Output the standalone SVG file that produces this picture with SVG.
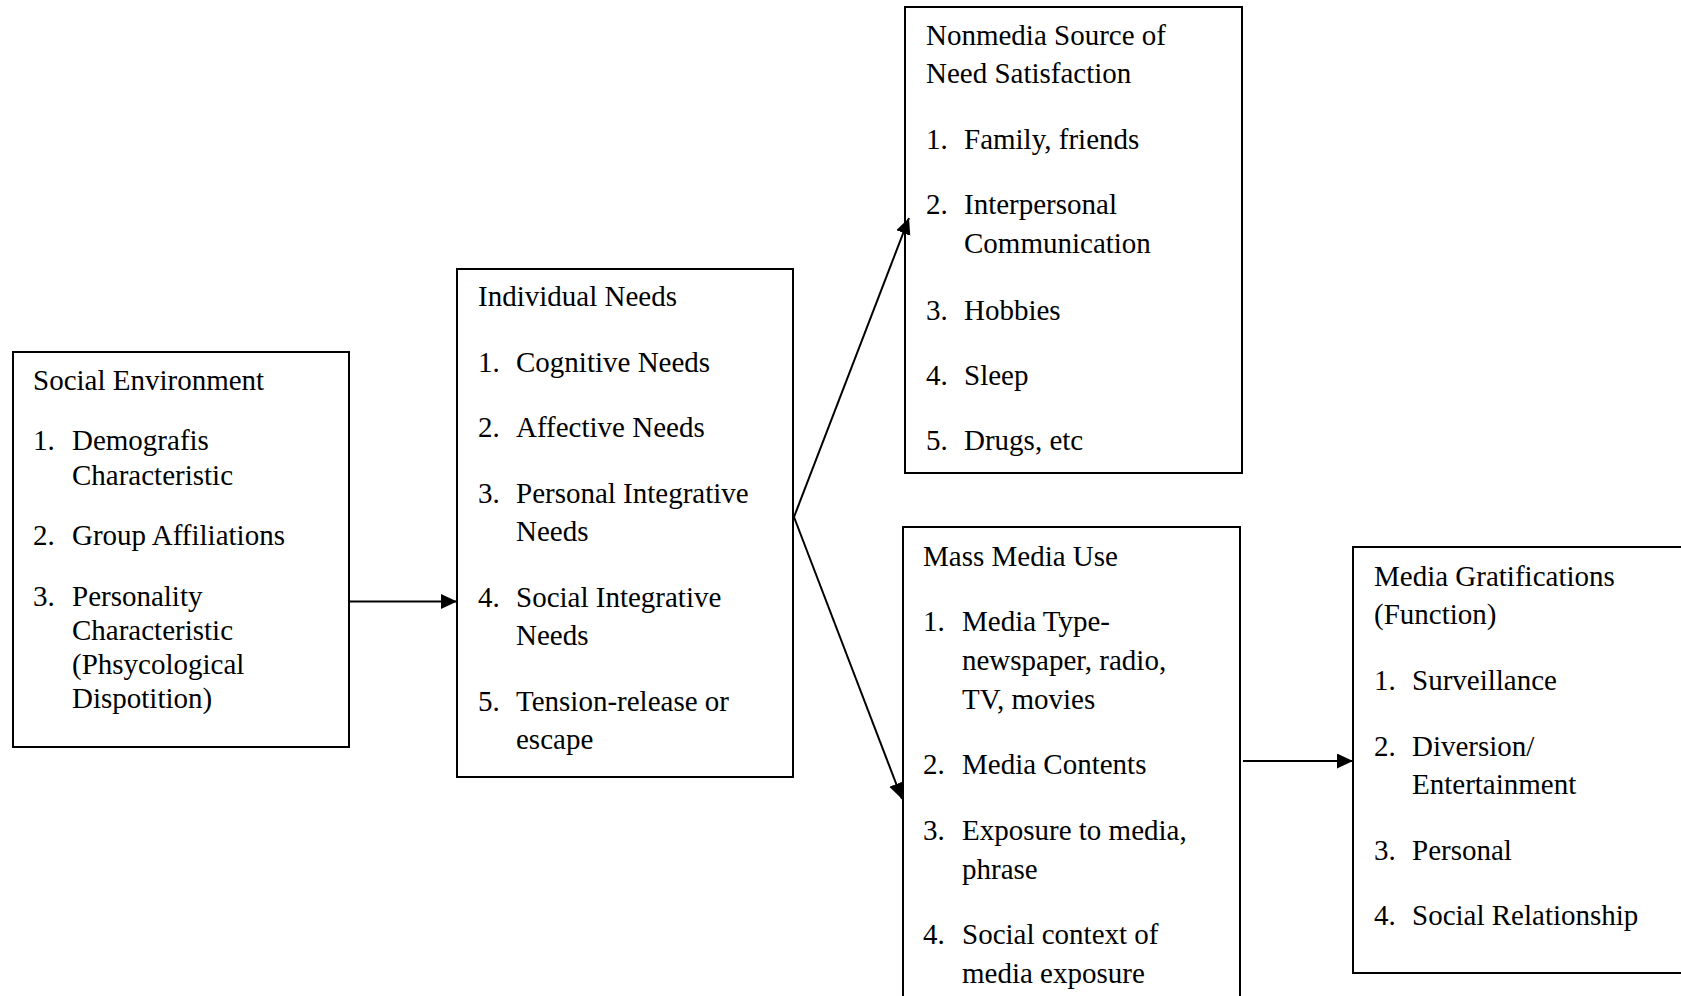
<svg xmlns="http://www.w3.org/2000/svg" width="1681" height="996" viewBox="0 0 1681 996">
<style>
.box{fill:#fff;stroke:#000;stroke-width:2}
text{font-family:"Liberation Serif","Times New Roman",serif;font-size:29px;fill:#000}
.conn{stroke:#000;stroke-width:2;fill:none}
</style>
<defs>
<marker id="arr" markerUnits="userSpaceOnUse" markerWidth="17" markerHeight="16" refX="16" refY="7.5" orient="auto">
<path d="M0,0 L16,7.5 L0,15 z" fill="#000"/>
</marker>
</defs>
<rect width="1681" height="996" fill="#fff"/>
<g id="social-environment">
<rect class="box" x="13" y="352" width="336" height="395"/>
<text x="33" y="390">Social Environment</text>
<text x="33" y="450">1.</text><text x="72" y="450">Demografis</text>
<text x="72" y="485">Characteristic</text>
<text x="33" y="545">2.</text><text x="72" y="545">Group Affiliations</text>
<text x="33" y="606">3.</text><text x="72" y="606">Personality</text>
<text x="72" y="640">Characteristic</text>
<text x="72" y="674">(Phsycological</text>
<text x="72" y="708">Dispotition)</text>
</g>
<g id="individual-needs">
<rect class="box" x="457" y="269" width="336" height="508"/>
<text x="478" y="306">Individual Needs</text>
<text x="478" y="372">1.</text><text x="516" y="372">Cognitive Needs</text>
<text x="478" y="437">2.</text><text x="516" y="437">Affective Needs</text>
<text x="478" y="503">3.</text><text x="516" y="503">Personal Integrative</text>
<text x="516" y="541">Needs</text>
<text x="478" y="607">4.</text><text x="516" y="607">Social Integrative</text>
<text x="516" y="645">Needs</text>
<text x="478" y="711">5.</text><text x="516" y="711">Tension-release or</text>
<text x="516" y="749">escape</text>
</g>
<g id="nonmedia-source">
<rect class="box" x="905" y="7" width="337" height="466"/>
<text x="926" y="45">Nonmedia Source of</text>
<text x="926" y="83">Need Satisfaction</text>
<text x="926" y="149">1.</text><text x="964" y="149">Family, friends</text>
<text x="926" y="214">2.</text><text x="964" y="214">Interpersonal</text>
<text x="964" y="253">Communication</text>
<text x="926" y="320">3.</text><text x="964" y="320">Hobbies</text>
<text x="926" y="385">4.</text><text x="964" y="385">Sleep</text>
<text x="926" y="450">5.</text><text x="964" y="450">Drugs, etc</text>
</g>
<g id="mass-media-use">
<rect class="box" x="903" y="527" width="337" height="490"/>
<text x="923" y="566">Mass Media Use</text>
<text x="923" y="631">1.</text><text x="962" y="631">Media Type-</text>
<text x="962" y="670">newspaper, radio,</text>
<text x="962" y="709">TV, movies</text>
<text x="923" y="774">2.</text><text x="962" y="774">Media Contents</text>
<text x="923" y="840">3.</text><text x="962" y="840">Exposure to media,</text>
<text x="962" y="879">phrase</text>
<text x="923" y="944">4.</text><text x="962" y="944">Social context of</text>
<text x="962" y="983">media exposure</text>
</g>
<g id="media-gratifications">
<rect class="box" x="1353" y="547" width="340" height="426"/>
<text x="1374" y="586">Media Gratifications</text>
<text x="1374" y="624">(Function)</text>
<text x="1374" y="690">1.</text><text x="1412" y="690">Surveillance</text>
<text x="1374" y="756">2.</text><text x="1412" y="756">Diversion/</text>
<text x="1412" y="794">Entertainment</text>
<text x="1374" y="860">3.</text><text x="1412" y="860">Personal</text>
<text x="1374" y="925">4.</text><text x="1412" y="925">Social Relationship</text>
</g>
<g id="connectors">
<line class="conn" x1="349" y1="601.5" x2="457" y2="601.5" marker-end="url(#arr)"/>
<line class="conn" x1="794" y1="517" x2="909" y2="218" marker-end="url(#arr)"/>
<line class="conn" x1="794" y1="517" x2="902" y2="799" marker-end="url(#arr)"/>
<line class="conn" x1="1243" y1="761" x2="1353" y2="761" marker-end="url(#arr)"/>
</g>
</svg>
